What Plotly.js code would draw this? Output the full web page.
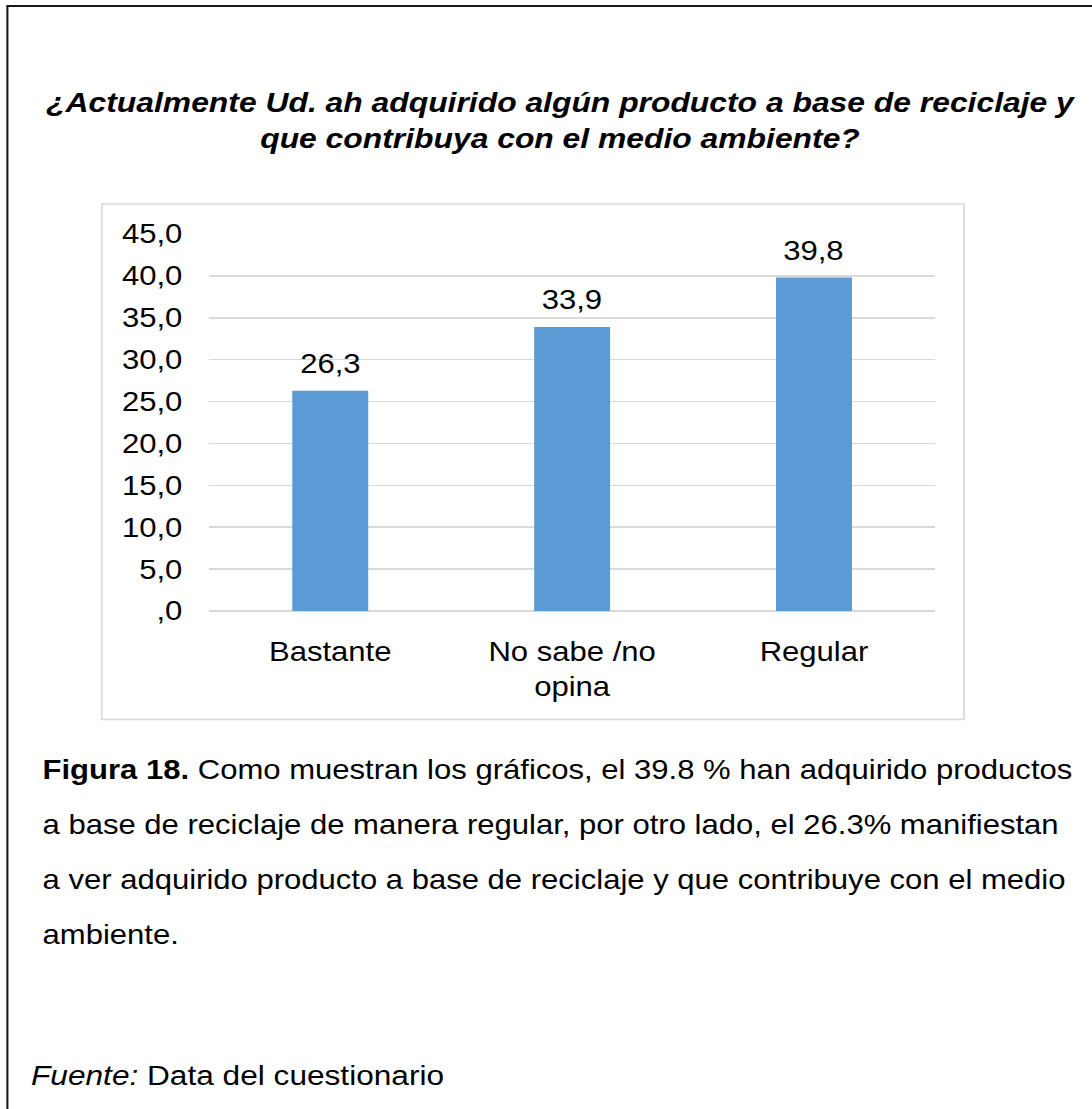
<!DOCTYPE html>
<html>
<head>
<meta charset="utf-8">
<script src="https://cdn.plot.ly/plotly-3.0.1.min.js"></script>
<style>
  html, body { margin: 0; padding: 0; background: #ffffff; overflow: hidden; }
  #wrap { width: 1092px; height: 1109px; overflow: hidden; }
  #chart { transform-origin: 0 0; }
</style>
</head>
<body>
<div id="wrap"><div id="chart"></div></div>
<script>
// ---- Data ----
const categories = ["Bastante", "No sabe /no<br>opina", "Regular"];
const values = [26.3, 33.9, 39.8];
const valueLabels = ["26,3", "33,9", "39,8"];
const tickValues = [0, 5, 10, 15, 20, 25, 30, 35, 40, 45];
const tickLabels = [",0", "5,0", "10,0", "15,0", "20,0", "25,0", "30,0", "35,0", "40,0", "45,0"];
const titleLines = [
  "¿Actualmente Ud. ah adquirido algún producto a base de reciclaje y",
  "que contribuya con el medio ambiente?"
];
const captionLines = [
  "<b>Figura 18.</b> Como muestran los gráficos, el 39.8 % han adquirido productos",
  "a base de reciclaje de manera regular, por otro lado, el 26.3% manifiestan",
  "a ver adquirido producto a base de reciclaje y que contribuye con el medio",
  "ambiente."
];
const sourceText = "<i>Fuente:</i> Data del cuestionario";

// ---- Geometry (target pixels); the picture's glyphs are wider than tall,
// so the drawing is laid out narrower and stretched horizontally by S ----
const S = 1.15;
const W = 1092, H = 1109;
const WL = W / S;
const PL = 209, PR = 935, PT = 234, PB = 611;
const px = x => (x - PL) / (PR - PL);
const py = y => (PB - y) / (PB - PT);
const FONT = "Liberation Sans, Arial, sans-serif";

document.getElementById("chart").style.transform = "scaleX(" + S + ")";

const trace = {
  type: "bar",
  x: categories,
  y: values,
  marker: { color: "#5b9bd5" },
  hoverinfo: "skip"
};

const annotations = [];
categories.forEach((c, i) => {
  annotations.push({
    x: c, y: values[i], xref: "x", yref: "y",
    text: valueLabels[i], showarrow: false,
    yanchor: "bottom", yshift: 10,
    font: { family: FONT, size: 27, color: "#000000" }
  });
});
annotations.push({
  x: px(561), y: py(120), xref: "paper", yref: "paper",
  xanchor: "center", yanchor: "middle",
  text: titleLines.map(t => "<b><i>" + t + "</i></b>").join("<br>"),
  showarrow: false, align: "center",
  font: { family: FONT, size: 27.7, color: "#000000" }
});
const capY = [770, 825, 880, 935];
captionLines.forEach((t, i) => {
  annotations.push({
    x: px(40), y: py(capY[i]), xref: "paper", yref: "paper",
    xanchor: "left", yanchor: "middle",
    text: t, showarrow: false, align: "left",
    font: { family: FONT, size: 27, color: "#000000" }
  });
});
annotations.push({
  x: px(28), y: py(1075), xref: "paper", yref: "paper",
  xanchor: "left", yanchor: "middle",
  text: sourceText, showarrow: false, align: "left",
  font: { family: FONT, size: 27.5, color: "#000000" }
});

const shapes = [
  { type: "rect", xref: "paper", yref: "paper",
    x0: px(101.5), x1: px(964), y0: py(204), y1: py(719.5),
    line: { color: "#d9d9d9", width: 1.5 }, fillcolor: "rgba(0,0,0,0)", layer: "below" },
  { type: "line", xref: "paper", yref: "paper",
    x0: px(7), x1: px(7), y0: py(6), y1: py(1115),
    line: { color: "#1a1a1a", width: 1.8 } },
  { type: "line", xref: "paper", yref: "paper",
    x0: px(6), x1: px(1100), y0: py(6), y1: py(6),
    line: { color: "#1a1a1a", width: 2 } }
];

const layout = {
  width: WL, height: H,
  margin: { l: PL / S, r: (W - PR) / S, t: PT, b: H - PB, pad: 0 },
  paper_bgcolor: "#ffffff",
  plot_bgcolor: "#ffffff",
  showlegend: false,
  bargap: 0.686,
  xaxis: {
    type: "category",
    showgrid: false, zeroline: false, showline: false,
    ticks: "outside", ticklen: 17, tickcolor: "rgba(0,0,0,0)",
    tickfont: { family: FONT, size: 27, color: "#000000" },
    fixedrange: true
  },
  yaxis: {
    range: [0, 45],
    tickvals: tickValues, ticktext: tickLabels,
    showgrid: true, gridcolor: "#d9d9d9", gridwidth: 1.5,
    zeroline: true, zerolinecolor: "#d9d9d9", zerolinewidth: 1.5,
    showline: false,
    ticks: "outside", ticklen: 17, tickcolor: "rgba(0,0,0,0)",
    tickfont: { family: FONT, size: 27, color: "#000000" },
    fixedrange: true
  },
  annotations: annotations,
  shapes: shapes
};

Plotly.newPlot("chart", [trace], layout, { staticPlot: true, displayModeBar: false });
</script>
</body>
</html>
